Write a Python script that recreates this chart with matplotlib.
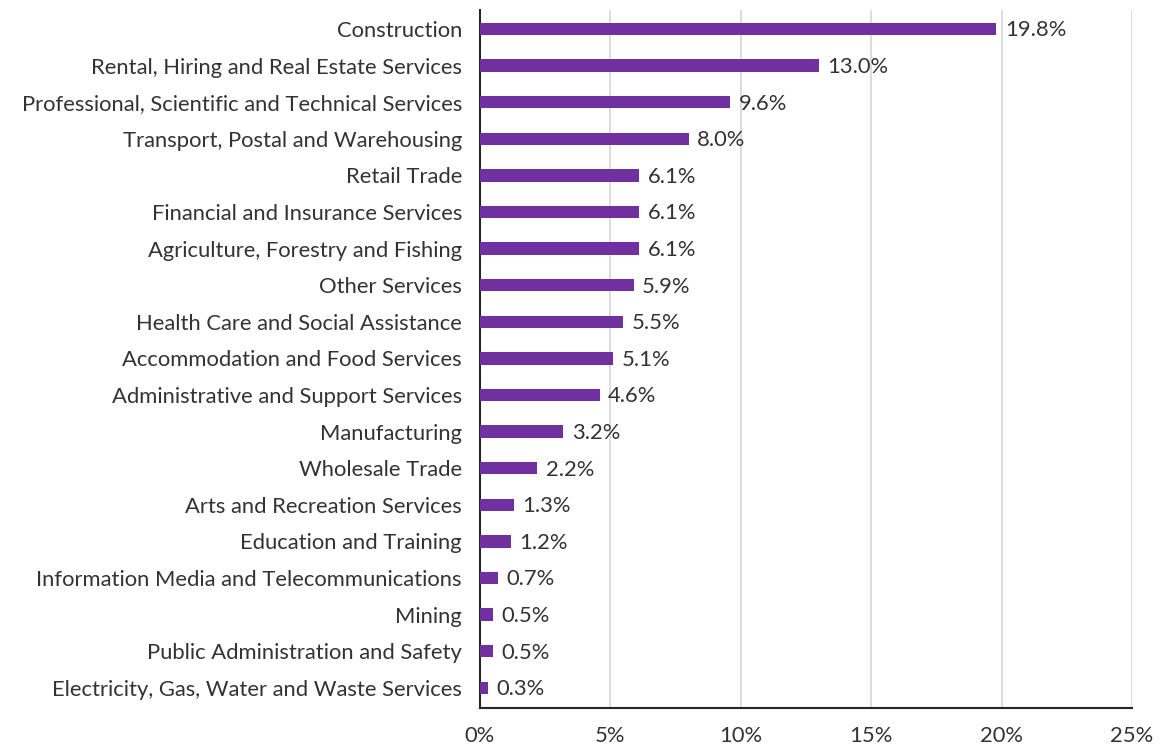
import matplotlib
matplotlib.use('Agg')
import matplotlib.pyplot as plt
from matplotlib.ticker import FuncFormatter

industries = [
    'Construction',
    'Rental, Hiring and Real Estate Services',
    'Professional, Scientific and Technical Services',
    'Transport, Postal and Warehousing',
    'Retail Trade',
    'Financial and Insurance Services',
    'Agriculture, Forestry and Fishing',
    'Other Services',
    'Health Care and Social Assistance',
    'Accommodation and Food Services',
    'Administrative and Support Services',
    'Manufacturing',
    'Wholesale Trade',
    'Arts and Recreation Services',
    'Education and Training',
    'Information Media and Telecommunications',
    'Mining',
    'Public Administration and Safety',
    'Electricity, Gas, Water and Waste Services',
]
shares = [19.8, 13.0, 9.6, 8.0, 6.1, 6.1, 6.1, 5.9, 5.5, 5.1, 4.6, 3.2, 2.2, 1.3, 1.2, 0.7, 0.5, 0.5, 0.3]
x_ticks = [0, 5, 10, 15, 20, 25]

plt.rcParams['font.family'] = ['Lato', 'DejaVu Sans']
text_col = '#333333'
fs = 15.8

fig = plt.figure(figsize=(11.61, 7.47), dpi=100)
ax = fig.add_axes([0.4134, 0.0522, 0.975 - 0.4134, 0.9866 - 0.0522])

pos = list(range(len(industries)))[::-1]
ax.barh(pos, shares, height=0.34, color='#7030A0', zorder=3)

for y, v in zip(pos, shares):
    ax.annotate(f'{v:.1f}%', (v, y), xytext=(6, -1), textcoords='offset points',
                va='center', ha='left', fontsize=fs, color=text_col)

ax.set_yticks(pos)
ax.set_yticklabels(industries, fontsize=fs, color=text_col)
ax.set_xticks(x_ticks)
ax.xaxis.set_major_formatter(FuncFormatter(lambda v, p: f'{v:.0f}%'))
ax.tick_params(axis='x', labelsize=fs, labelcolor=text_col, length=0, pad=13)
ax.tick_params(axis='y', length=0, pad=13)
ax.set_xlim(0, 25)
ax.set_ylim(-0.55, 18.52)

ax.grid(True, axis='x', color='#D9D9D9', linewidth=1.3, zorder=0)
for s in ('top', 'right'):
    ax.spines[s].set_visible(False)
for s in ('left', 'bottom'):
    ax.spines[s].set_color('#262626')
    ax.spines[s].set_linewidth(1.5)

fig.savefig('out.png', dpi=100)
